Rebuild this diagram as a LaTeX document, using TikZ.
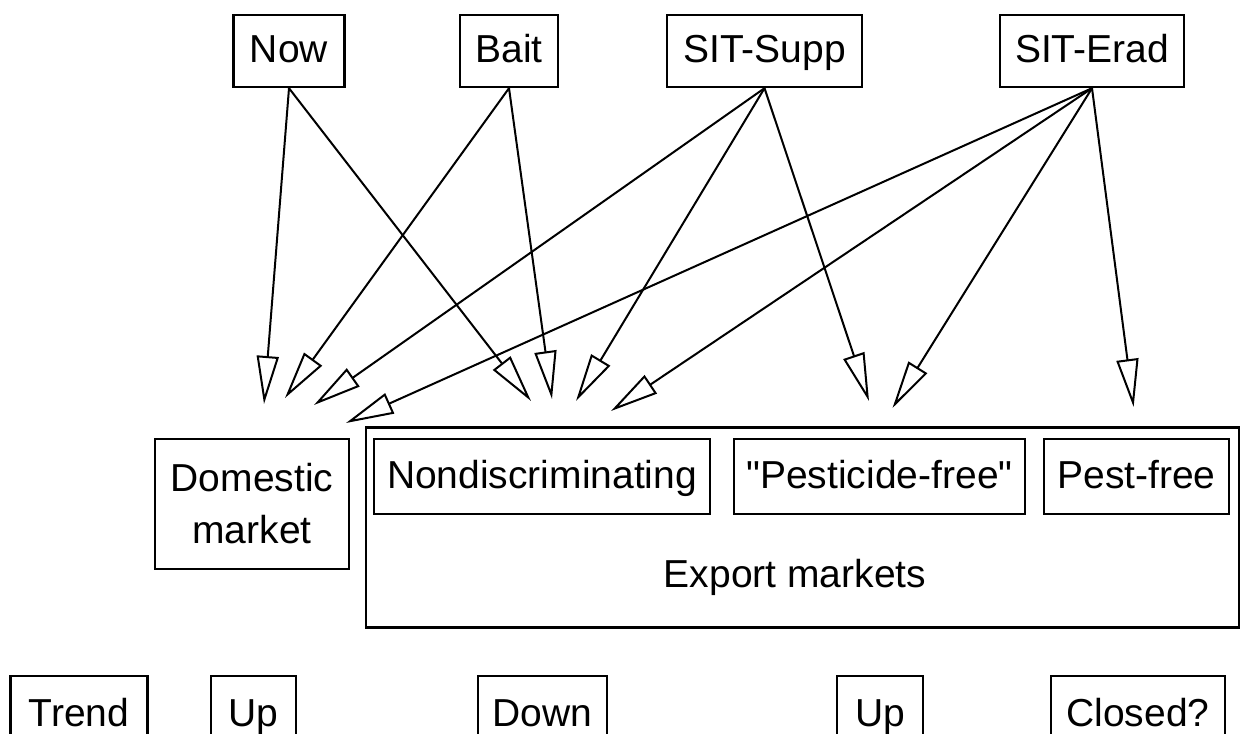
\documentclass[tikz,border=0pt]{standalone}
\usepackage{fontspec}
\setmainfont{Liberation Sans}
\usetikzlibrary{arrows.meta, positioning}

\tikzset{
    box/.style={rectangle,draw,line width=1.2pt,inner sep=0pt,align=center,text height=14.5pt,text depth=3pt,font=\fontsize{19.5}{26}\selectfont},
    link/.style={line width=1pt,-{Triangle[open,length=24pt,width=11pt]}}
}

\begin{document}
\begin{tikzpicture}[x=0.5pt,y=-0.5pt]
    \useasboundingbox (0,0) rectangle (1240,733);
    \clip (0,0) rectangle (1240,733);

    % control options
    \node[box,minimum width=55.5pt,minimum height=36pt] (now) at (289,51) {Now};
    \node[box,minimum width=49pt,minimum height=36pt] (bait) at (509,51) {Bait};
    \node[box,minimum width=97.5pt,minimum height=36pt] (supp) at (764.5,51) {SIT-Supp};
    \node[box,minimum width=92pt,minimum height=36pt] (erad) at (1092,51) {SIT-Erad};

    % markets
    \node[box,text height=,text depth=,minimum width=97pt,minimum height=65pt] (domestic) at (252,504) {Domestic\\market};
    \node[box,minimum width=436.5pt,minimum height=100pt] (export) at (802.5,527.5) {};
    \node[box,minimum width=168pt,minimum height=37.5pt] (nondisc) at (542,476.5) {Nondiscriminating};
    \node[box,minimum width=145.5pt,minimum height=37.5pt] (pestcide) at (879.5,476.5) {\textquotedbl Pesticide-free\textquotedbl};
    \node[box,minimum width=92.5pt,minimum height=37.5pt] (pestfree) at (1136.5,476.5) {Pest-free};
    \node[font=\fontsize{19.5}{26}\selectfont] (exportlbl) at (795,577) {Export markets};

    % trends
    \node[box,anchor=north,minimum width=68.5pt,minimum height=38.5pt] (trend) at (79,675) {Trend};
    \node[box,anchor=north,minimum width=42.5pt,minimum height=38.5pt] (domup) at (253.5,675) {Up};
    \node[box,anchor=north,minimum width=64.5pt,minimum height=38.5pt] (nondown) at (542.5,675) {Down};
    \node[box,anchor=north,minimum width=43pt,minimum height=38.5pt] (pestup) at (880,675) {Up};
    \node[box,anchor=north,minimum width=87pt,minimum height=38.5pt] (closed) at (1138,675) {Closed?};

    % arrow tips
    \coordinate (dom1) at (264,404);
    \coordinate (dom2) at (285,398);
    \coordinate (dom3) at (314,405);
    \coordinate (dom4) at (346,423);
    \coordinate (non1) at (531,401);
    \coordinate (non2) at (552,399);
    \coordinate (non3) at (576,401);
    \coordinate (non4) at (611,411);
    \coordinate (pes1) at (869,401);
    \coordinate (pes2) at (892.5,408);
    \coordinate (pf1) at (1133.6,407);

    \draw[link] (now.south) -- (dom1);
    \draw[link] (now.south) -- (non1);
    \draw[link] (bait.south) -- (dom2);
    \draw[link] (bait.south) -- (non2);
    \draw[link] (supp.south) -- (dom3);
    \draw[link] (supp.south) -- (non3);
    \draw[link] (supp.south) -- (pes1);
    \draw[link] (erad.south) -- (dom4);
    \draw[link] (erad.south) -- (non4);
    \draw[link] (erad.south) -- (pes2);
    \draw[link] (erad.south) -- (pf1);
\end{tikzpicture}
\end{document}
